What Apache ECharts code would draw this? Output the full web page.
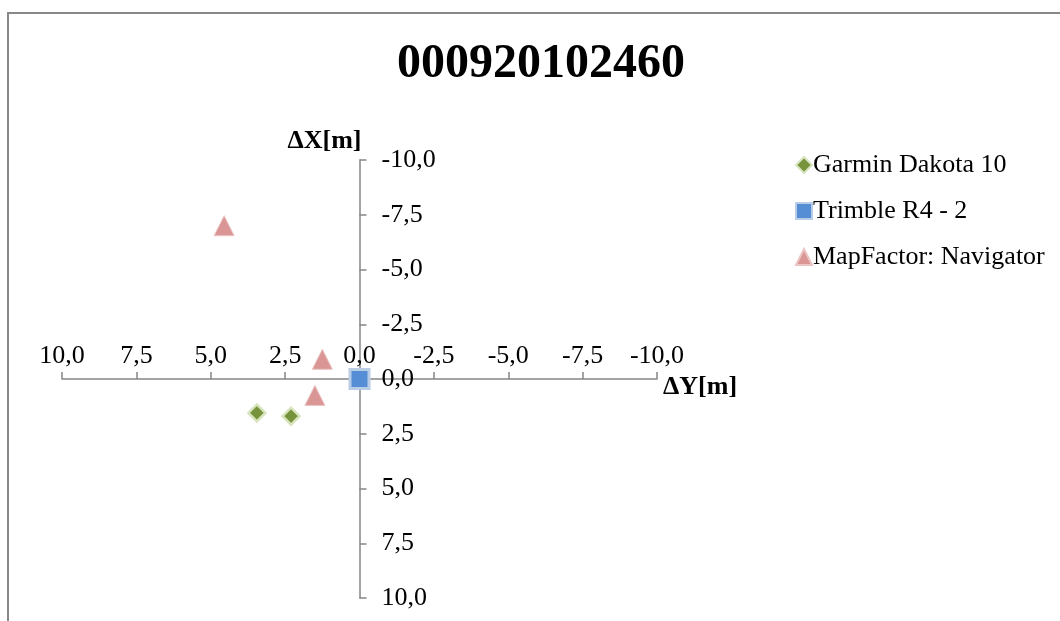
<!DOCTYPE html>
<html>
<head>
<meta charset="utf-8">
<style>
  html, body { margin: 0; padding: 0; background: #fff; }
  #chart { width: 1060px; height: 621px; }
</style>
<script src="https://cdn.jsdelivr.net/npm/echarts@6/dist/echarts.min.js"></script>
</head>
<body>
<div id="chart"></div>
<script>
// Offsets of each receiver from the reference point: [ΔY, ΔX] in metres
const garminDakota = [[3.45, 1.55], [2.3, 1.7]];
const trimbleR4 = [[0.0, 0.0]];
const mapFactor = [[4.55, -7.0], [1.25, -0.9], [1.5, 0.75]];

const seriesNames = ['Garmin Dakota 10', 'Trimble R4 - 2', 'MapFactor: Navigator'];
const chartTitle = '000920102460';
const axisMin = -10;
const axisMax = 10;
const axisStep = 2.5;

const fontFamily = '"Liberation Serif", "Times New Roman", serif';
const axisColor = '#868686';
const fmt = v => v.toFixed(1).replace('.', ',');

// Plot area
const W = 1060, H = 621;
const grid = { left: 62, right: 403, top: 160, bottom: 23 };
const gridW = W - grid.left - grid.right;
const gridH = H - grid.top - grid.bottom;
// Both axes cross at 0; the ranges are symmetric, so 0 sits mid-way along each axis.
const zeroFracX = (axisMax - 0) / (axisMax - axisMin); // x axis is inverted
const zeroFracY = (0 - axisMin) / (axisMax - axisMin); // y axis is inverted (min at top)

const chart = echarts.init(document.getElementById('chart'));

const labelStyle = {
  inside: true,
  formatter: fmt,
  color: '#000',
  fontFamily: fontFamily,
  fontSize: 26
};

const axisCommon = {
  type: 'value',
  min: axisMin,
  max: axisMax,
  interval: axisStep,
  inverse: true,
  splitLine: { show: false },
  axisLine: { onZero: false, lineStyle: { color: axisColor, width: 1.5 } },
  axisTick: { inside: true, length: 7, lineStyle: { color: axisColor, width: 1.5 } },
  nameMoveOverlap: false,
  nameTextStyle: { fontFamily: fontFamily, fontSize: 26, fontWeight: 'bold', color: '#000' }
};

chart.setOption({
  backgroundColor: '#fff',
  animation: false,
  title: {
    text: chartTitle,
    left: 536,
    textAlign: 'center',
    top: 36,
    textStyle: { fontFamily: fontFamily, fontSize: 48, fontWeight: 'bold', color: '#000' }
  },
  legend: {
    orient: 'vertical',
    left: 790,
    top: 147,
    itemGap: 20,
    itemWidth: 16,
    itemHeight: 16,
    textStyle: { fontFamily: fontFamily, fontSize: 26, color: '#000', padding: [0, 0, 0, -4] },
    data: seriesNames
  },
  grid: grid,
  xAxis: Object.assign({}, axisCommon, {
    position: 'bottom',
    offset: -gridH * (1 - zeroFracY),
    name: 'ΔY[m]',
    nameLocation: 'start',
    nameGap: 6,
    nameTextStyle: Object.assign({}, axisCommon.nameTextStyle, { verticalAlign: 'top', padding: [-5, 0, 0, 0] }),
    axisLabel: Object.assign({}, labelStyle, { margin: 10 })
  }),
  yAxis: Object.assign({}, axisCommon, {
    position: 'left',
    offset: -gridW * (1 - zeroFracX),
    name: 'ΔX[m]',
    nameLocation: 'start',
    nameGap: 6,
    nameTextStyle: Object.assign({}, axisCommon.nameTextStyle, { align: 'right', padding: [0, -2, 0, 0] }),
    axisLabel: Object.assign({}, labelStyle, { margin: 22 })
  }),
  graphic: [{
    type: 'rect',
    shape: { x: 8, y: 13, width: 1200, height: 800 },
    style: { fill: 'none', stroke: '#888888', lineWidth: 2 },
    silent: true,
    z: -1
  }],
  series: [
    {
      name: seriesNames[0],
      type: 'scatter',
      symbol: 'diamond',
      symbolSize: 17,
      z: 5,
      itemStyle: { color: '#77933C', borderColor: '#D7E4BD', borderWidth: 2.5, opacity: 1 },
      data: garminDakota
    },
    {
      name: seriesNames[1],
      type: 'scatter',
      symbol: 'rect',
      symbolSize: 19,
      z: 5,
      itemStyle: { color: '#558ED5', borderColor: '#B9CDE5', borderWidth: 3, opacity: 1 },
      data: trimbleR4
    },
    {
      name: seriesNames[2],
      type: 'scatter',
      symbol: 'triangle',
      symbolSize: [20, 20],
      z: 5,
      itemStyle: { color: '#D99694', borderColor: '#EAC5C4', borderWidth: 1, opacity: 1 },
      data: mapFactor
    }
  ]
});
</script>
</body>
</html>
